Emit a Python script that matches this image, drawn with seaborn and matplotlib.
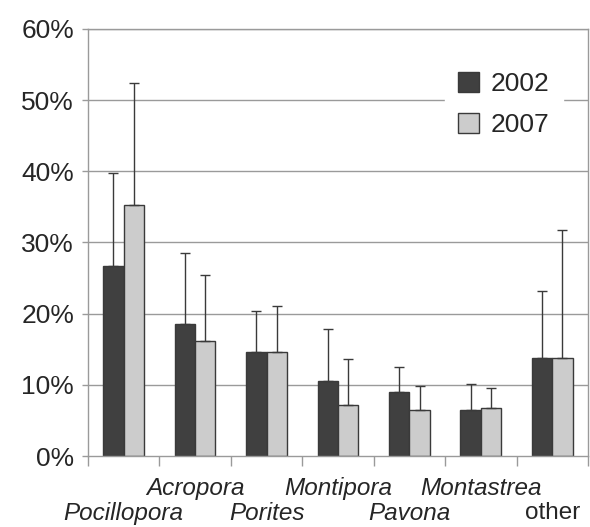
import numpy as np
import pandas as pd
import matplotlib
matplotlib.use("Agg")
import matplotlib.pyplot as plt
import seaborn as sns

categories = ["Pocillopora", "Acropora", "Porites", "Montipora", "Pavona", "Montastrea", "other"]
years = ["2002", "2007"]
mean_2002 = [26.7, 18.6, 14.6, 10.5, 9.0, 6.5, 13.8]
mean_2007 = [35.2, 16.1, 14.6, 7.1, 6.5, 6.8, 13.8]
err_2002 = [13.0, 9.9, 5.8, 7.3, 3.5, 3.6, 9.4]
err_2007 = [17.2, 9.4, 6.5, 6.5, 3.3, 2.7, 17.9]
yticks = [0, 10, 20, 30, 40, 50, 60]

sns.set_theme(style="white")
plt.rcParams['font.family'] = ['Liberation Sans', 'DejaVu Sans']

df = pd.DataFrame({
    "genus": categories * 2,
    "year": [years[0]] * len(categories) + [years[1]] * len(categories),
    "cover": mean_2002 + mean_2007,
})

fig = plt.figure(figsize=(5.9, 5.27), dpi=100)
ax = fig.add_axes([0.149, 0.1347, 0.8476, 0.8103])

grid_color = "#9a9a9a"
for v in yticks[1:]:
    ax.axhline(v, color=grid_color, lw=1.0, zorder=0)

sns.barplot(data=df, x="genus", y="cover", hue="year", order=categories,
            hue_order=years, palette=["#404040", "#cccccc"], width=0.57,
            gap=0, edgecolor="#3a3a3a", linewidth=1.0, errorbar=None,
            ax=ax, zorder=2, legend=True)

# error bars (upper only) placed on the bar patches
for cont, e in zip(ax.containers, [err_2002, err_2007]):
    for p, ev in zip(cont.patches, e):
        xc = p.get_x() + p.get_width() / 2
        h = p.get_height()
        ax.errorbar([xc], [h], yerr=[[0], [ev]], fmt="none", ecolor="#3a3a3a",
                    elinewidth=1.0, capsize=3.5, capthick=1.0, zorder=3)

ax.set_xlim(-0.5, len(categories) - 0.5)
ax.set_ylim(0, 60)
ax.set_yticks(yticks)
ax.set_yticklabels([f"{v}%" for v in yticks], fontsize=19)

ax.set_xticks(range(len(categories)))
ax.set_xticklabels(categories, fontsize=17.5)
ax.set_xticks(np.arange(-0.5, len(categories) + 0.5, 1), minor=True)
ax.tick_params(axis="x", which="major", length=0)
ax.tick_params(axis="x", which="minor", length=7, color=grid_color, width=1.0, bottom=True)
ax.tick_params(axis="y", length=4, color=grid_color, width=1.0, left=True, pad=6)

for i, (tick, lab) in enumerate(zip(ax.xaxis.get_major_ticks(), ax.get_xticklabels())):
    tick.set_pad(33 if i % 2 == 0 else 15)
    if categories[i] != "other":
        lab.set_fontstyle("italic")

for s in ax.spines.values():
    s.set_color(grid_color)
    s.set_linewidth(1.0)

ax.set_xlabel("")
ax.set_ylabel("")

leg = ax.legend(loc="upper right", bbox_to_anchor=(0.95, 0.93), frameon=True,
                fontsize=19, handlelength=0.8, handleheight=0.8,
                handletextpad=0.45, labelspacing=0.62, borderpad=0.5,
                borderaxespad=0)
leg.get_frame().set_edgecolor("white")
leg.get_frame().set_facecolor("white")
leg.get_frame().set_alpha(1.0)
leg.set_zorder(5)

fig.savefig("out.png", dpi=100)
